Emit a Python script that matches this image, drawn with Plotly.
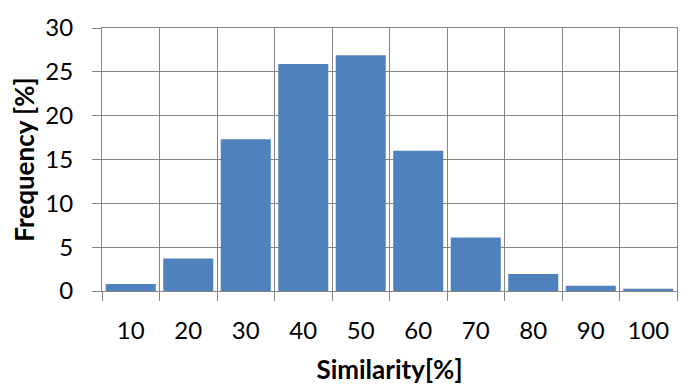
# histogram of similarity
import plotly.graph_objects as go

# data
similarity = ['10', '20', '30', '40', '50', '60', '70', '80', '90', '100']
frequency = [0.8, 3.7, 17.3, 25.9, 26.9, 16.0, 6.1, 1.95, 0.6, 0.25]
y_ticks = [0, 5, 10, 15, 20, 25, 30]

fnt = 'Lato, Open Sans, sans-serif'
grid = '#868686'

fig = go.Figure()
fig.add_trace(go.Bar(x=similarity, y=frequency, marker_color='#4F81BD',
                     marker_line_width=0))

# page body has an 8px margin, so shift the plot area back
fig.update_layout(width=700, height=389, template='plotly_white',
                  plot_bgcolor='white', paper_bgcolor='white',
                  margin=dict(l=94, r=31, t=20, b=106),
                  bargap=0.13, showlegend=False,
                  font=dict(family=fnt, color='black'))

fig.update_xaxes(type='category', tickson='boundaries', showgrid=True,
                 gridcolor=grid, gridwidth=1, ticks='outside', ticklen=9,
                 tickcolor=grid, tickwidth=1, showline=True, linecolor=grid,
                 linewidth=1, mirror=True, tickfont=dict(size=24),
                 ticklabelstandoff=18, automargin=False,
                 title=dict(text='<b>Similarity[%]</b>', font=dict(size=26),
                            standoff=18))
fig.update_yaxes(range=[0, 30], tickvals=y_ticks, showgrid=True,
                 gridcolor=grid, gridwidth=1, ticks='outside', ticklen=9,
                 tickcolor=grid, tickwidth=1, showline=True, linecolor=grid,
                 linewidth=1, mirror=True, zeroline=False,
                 tickfont=dict(size=24), ticklabelstandoff=14, automargin=False,
                 title=dict(text='<b>Frequency [%]</b>', font=dict(size=26),
                            standoff=10))

fig.write_html("out.html")
